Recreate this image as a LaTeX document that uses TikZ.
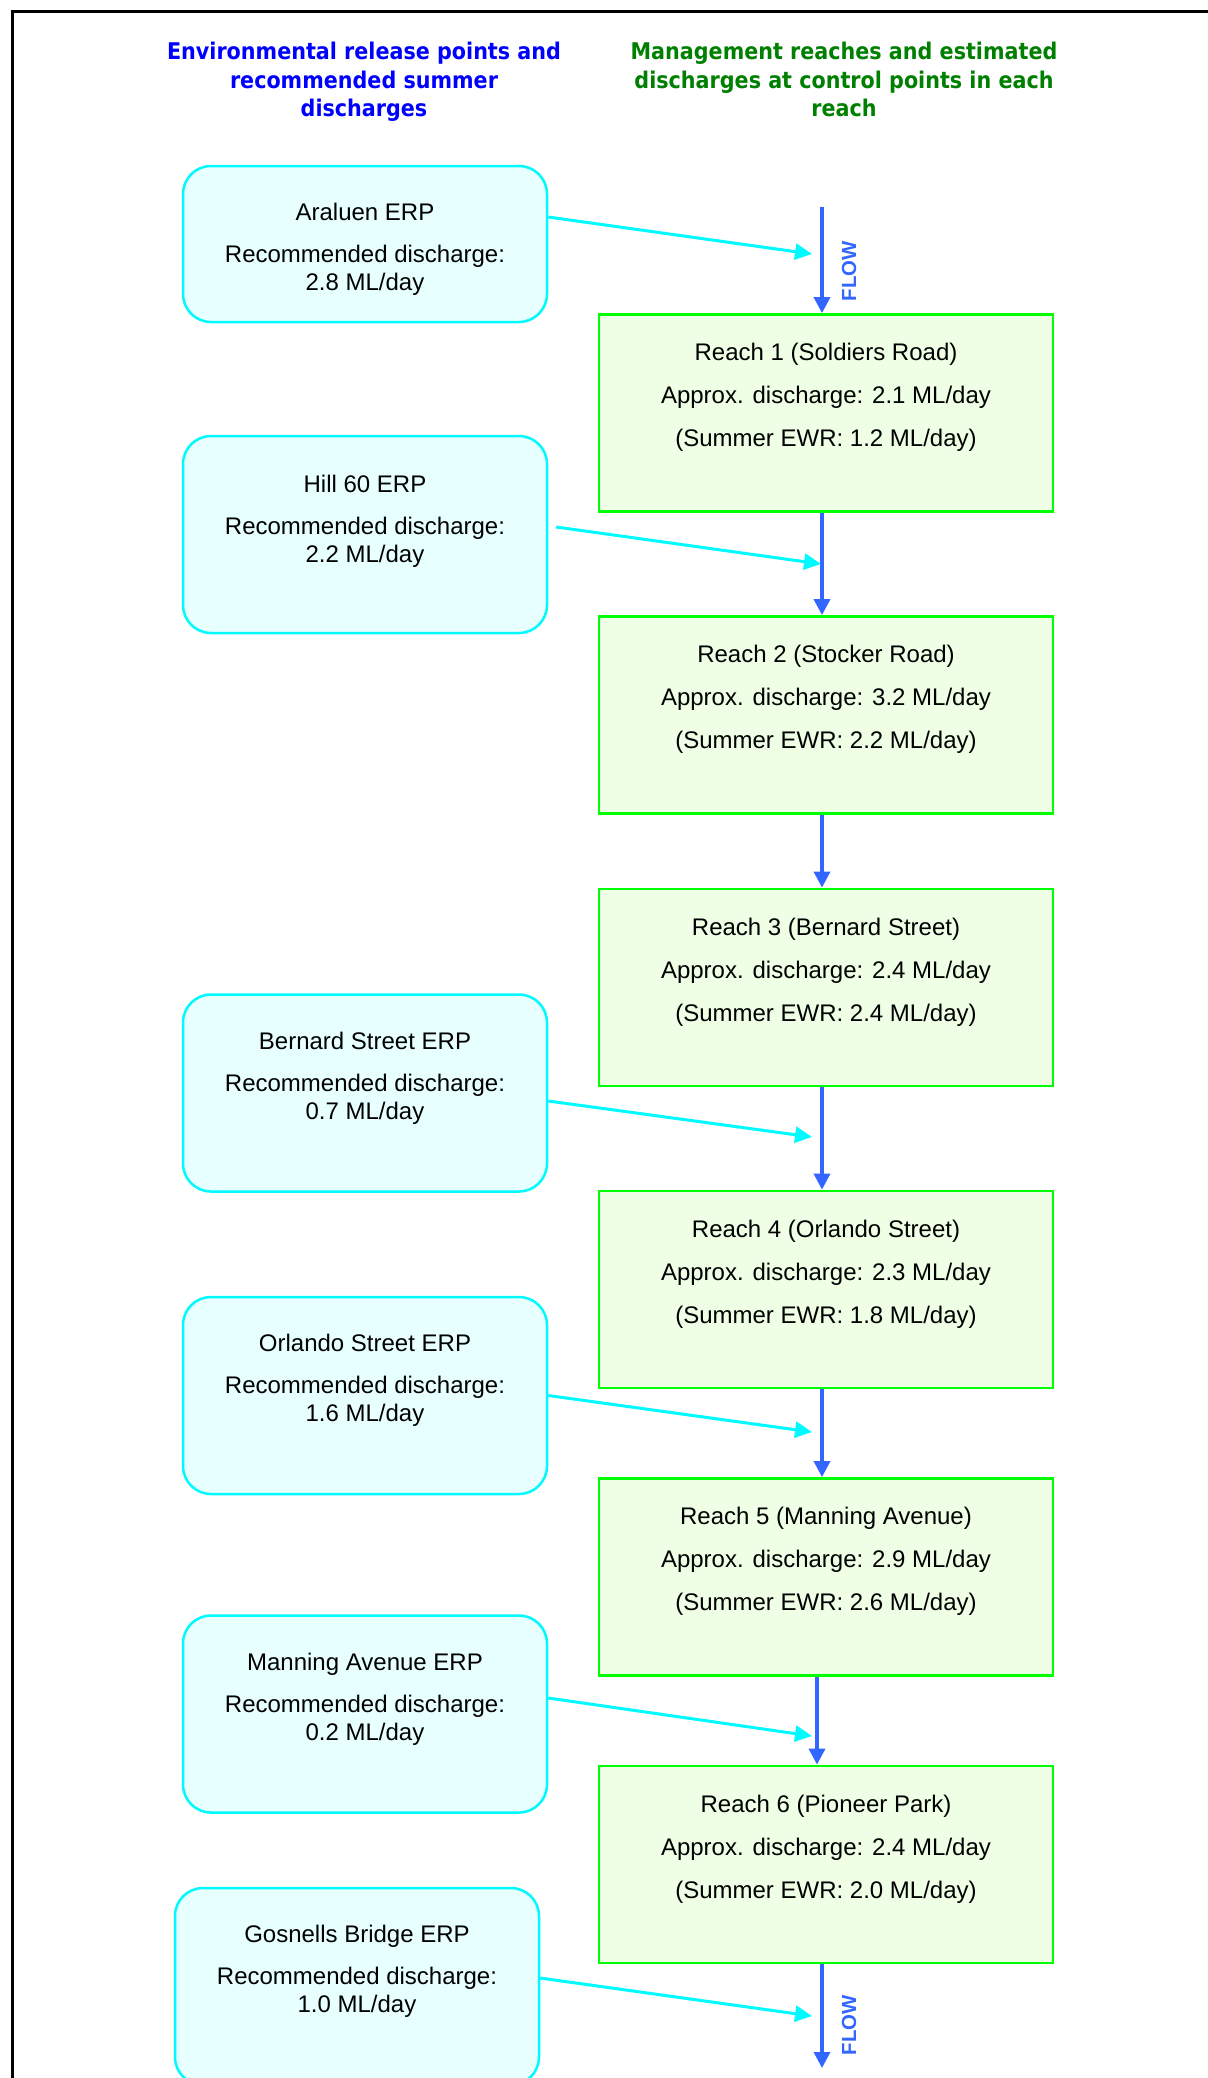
\documentclass[tikz,border=0pt]{standalone}
\usepackage{fontspec}
\setmainfont{Liberation Sans}
\newfontfamily\hdrfont[FakeStretch=0.9]{DejaVu Sans}
\usetikzlibrary{arrows.meta,calc}
\definecolor{flowblue}{RGB}{51,102,255}
\definecolor{erpcyan}{RGB}{0,250,255}
\definecolor{erpfill}{RGB}{232,255,255}
\definecolor{reachgreen}{RGB}{0,255,0}
\definecolor{reachfill}{RGB}{238,255,230}
\definecolor{hdrblue}{RGB}{0,0,255}
\definecolor{hdrgreen}{RGB}{0,128,0}
\begin{document}
\begin{tikzpicture}[x=0.5pt,y=-0.5pt,
  erpbox/.style={draw=erpcyan, fill=erpfill, line width=1.25pt, rounded corners=14pt,
    minimum width=182pt, minimum height=98.5pt, inner sep=0pt},
  reachbox/.style={draw=reachgreen, fill=reachfill, line width=1.4pt,
    minimum width=227pt, minimum height=98.5pt, inner sep=0pt},
  boxtext/.style={align=center, font=\fontsize{12}{14}\selectfont, anchor=north, inner sep=0pt},
  hdr/.style={align=center, font=\hdrfont\bfseries\fontsize{11.5}{14.25}\selectfont, anchor=north, inner sep=0pt},
  flowlbl/.style={font=\bfseries\fontsize{10.2}{12}\selectfont, text=flowblue, rotate=90, inner sep=0pt},
  flowarrow/.style={draw=flowblue, line width=1.75pt, -{Triangle[length=8pt,width=8pt]}},
  inarrow/.style={draw=erpcyan, line width=1.5pt, -{Triangle[length=8.5pt,width=8pt]}}
]
\useasboundingbox (0,0) rectangle (1208,2078);
\fill[white] (0,0) rectangle (1208,2078);
% frame (only top and left edges visible)
\draw[line width=1.5pt] (12,2100) -- (12,11) -- (1230,11);

% headers
\node[hdr, text=hdrblue] (hl) at (364,42) {Environmental release points and\\recommended summer\\discharges};
\node[hdr, text=hdrgreen] (hr) at (844,42) {Management reaches and estimated\\discharges at control points in each\\reach};

% environmental release point boxes
\node[erpbox, minimum height=78pt] (e1) at (365,244) {};
\node[erpbox] (e2) at (365,534.5) {};
\node[erpbox] (e3) at (365,1093) {};
\node[erpbox] (e4) at (365,1395.5) {};
\node[erpbox] (e5) at (365,1714) {};
\node[erpbox] (e6) at (357,1986.5) {};

\node[boxtext] (e1t) at ($(e1.north)+(0,38)$) {Araluen ERP\\[7pt]Recommended discharge:\\2.8 ML/day};
\node[boxtext] (e2t) at ($(e2.north)+(0,40)$) {Hill 60 ERP\\[7pt]Recommended discharge:\\2.2 ML/day};
\node[boxtext] (e3t) at ($(e3.north)+(0,38)$) {Bernard Street ERP\\[7pt]Recommended discharge:\\0.7 ML/day};
\node[boxtext] (e4t) at ($(e4.north)+(0,38)$) {Orlando Street ERP\\[7pt]Recommended discharge:\\1.6 ML/day};
\node[boxtext] (e5t) at ($(e5.north)+(0,38)$) {Manning Avenue ERP\\[7pt]Recommended discharge:\\0.2 ML/day};
\node[boxtext] (e6t) at ($(e6.north)+(0,38)$) {Gosnells Bridge ERP\\[7pt]Recommended discharge:\\1.0 ML/day};

% management reach boxes
\node[reachbox] (r1) at (826,413) {};
\node[reachbox] (r2) at (826,715) {};
\node[reachbox] (r3) at (826,987.5) {};
\node[reachbox] (r4) at (826,1289.5) {};
\node[reachbox] (r5) at (826,1577) {};
\node[reachbox] (r6) at (826,1864.5) {};

\node[boxtext] (r1t) at ($(r1.north)+(0,30)$) {Reach 1 (Soldiers Road)\\[7.5pt]Approx. discharge: 2.1 ML/day\\[7.5pt](Summer EWR: 1.2 ML/day)};
\node[boxtext] (r2t) at ($(r2.north)+(0,30)$) {Reach 2 (Stocker Road)\\[7.5pt]Approx. discharge: 3.2 ML/day\\[7.5pt](Summer EWR: 2.2 ML/day)};
\node[boxtext] (r3t) at ($(r3.north)+(0,30)$) {Reach 3 (Bernard Street)\\[7.5pt]Approx. discharge: 2.4 ML/day\\[7.5pt](Summer EWR: 2.4 ML/day)};
\node[boxtext] (r4t) at ($(r4.north)+(0,30)$) {Reach 4 (Orlando Street)\\[7.5pt]Approx. discharge: 2.3 ML/day\\[7.5pt](Summer EWR: 1.8 ML/day)};
\node[boxtext] (r5t) at ($(r5.north)+(0,30)$) {Reach 5 (Manning Avenue)\\[7.5pt]Approx. discharge: 2.9 ML/day\\[7.5pt](Summer EWR: 2.6 ML/day)};
\node[boxtext] (r6t) at ($(r6.north)+(0,30)$) {Reach 6 (Pioneer Park)\\[7.5pt]Approx. discharge: 2.4 ML/day\\[7.5pt](Summer EWR: 2.0 ML/day)};

% flow labels
\node[flowlbl] (fl1) at (849,271) {FLOW};
\node[flowlbl] (fl2) at (849,2025) {FLOW};

% main flow arrows
\coordinate (src) at (822,207);
\coordinate (mouth) at (822,2068);
\draw[flowarrow] (src) -- ($(r1.north)+(-4,0)$);
\draw[flowarrow] ($(r1.south)+(-4,0)$) -- ($(r2.north)+(-4,0)$);
\draw[flowarrow] ($(r2.south)+(-4,0)$) -- ($(r3.north)+(-4,0)$);
\draw[flowarrow] ($(r3.south)+(-4,0)$) -- ($(r4.north)+(-4,0)$);
\draw[flowarrow] ($(r4.south)+(-4,0)$) -- ($(r5.north)+(-4,0)$);
\draw[flowarrow] ($(r5.south)+(-9,0)$) -- ($(r6.north)+(-9,0)$);
\draw[flowarrow] ($(r6.south)+(-4,0)$) -- (mouth);

% release inflow arrows
\coordinate (a1) at (812,254);
\coordinate (a2) at (821,564);
\coordinate (a3) at (812,1137);
\coordinate (a4) at (812,1432);
\coordinate (a5) at (812,1736);
\coordinate (a6) at (812,2016);
\draw[inarrow] ($(e1.east)+(0,-27)$) -- (a1);
\draw[inarrow] ($(e2.east)+(8,-7.5)$) -- (a2);
\draw[inarrow] ($(e3.east)+(0,8)$) -- (a3);
\draw[inarrow] (e4.east) -- (a4);
\draw[inarrow] ($(e5.east)+(0,-16)$) -- (a5);
\draw[inarrow] ($(e6.east)+(0,-8.5)$) -- (a6);
\end{tikzpicture}
\end{document}
